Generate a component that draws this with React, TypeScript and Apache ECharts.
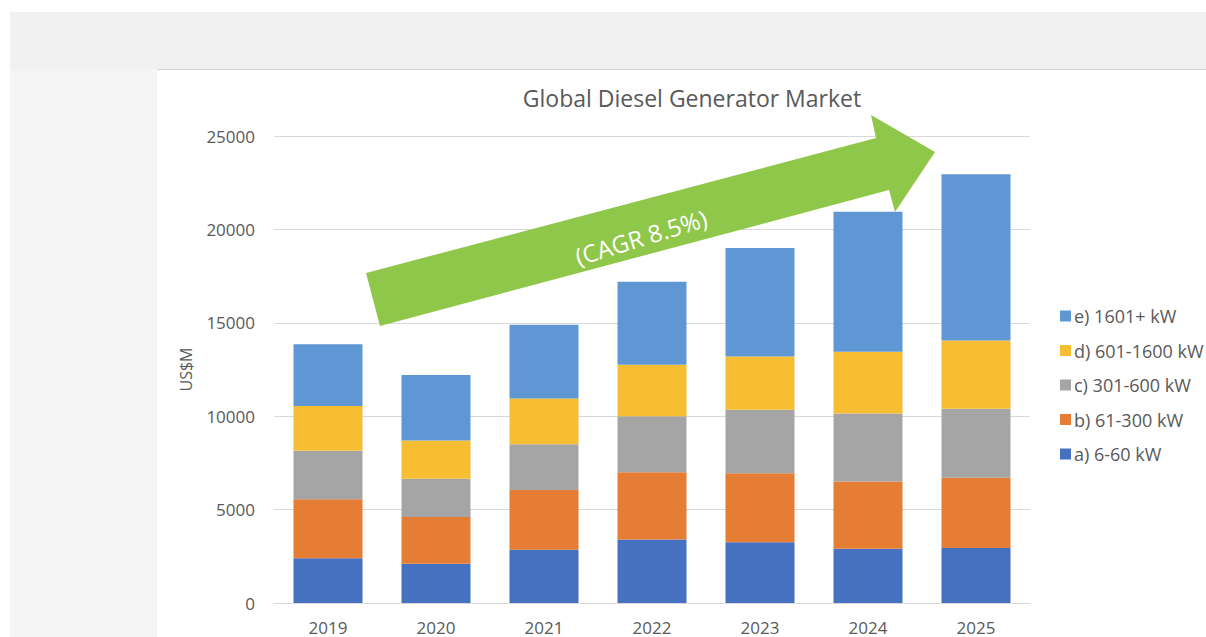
import React, { useEffect, useRef } from "react";
import * as echarts from "echarts";

const years = ["2019", "2020", "2021", "2022", "2023", "2024", "2025"];
const seriesNames = ["a) 6-60 kW", "b) 61-300 kW", "c) 301-600 kW", "d) 601-1600 kW", "e) 1601+ kW"];
const kw6to60 = [2400, 2100, 2850, 3400, 3250, 2900, 2950];
const kw61to300 = [3150, 2500, 3200, 3600, 3700, 3600, 3750];
const kw301to600 = [2600, 2050, 2450, 3000, 3400, 3650, 3700];
const kw601to1600 = [2400, 2050, 2450, 2750, 2850, 3300, 3650];
const kw1601plus = [3300, 3500, 3950, 4450, 5800, 7500, 8900];
const seriesColors = ["#4670c0", "#e67d35", "#a5a5a5", "#f7be33", "#5e97d4"];
const yTicks = { min: 0, max: 25000, interval: 5000 };

const FONT = "'Open Sans', 'Noto Sans', sans-serif";

export default function App() {
  const ref = useRef<HTMLDivElement>(null);
  useEffect(() => {
    if (!ref.current) return;
    const chart = echarts.init(ref.current, null, { renderer: "svg" });
    const values = [kw6to60, kw61to300, kw301to600, kw601to1600, kw1601plus];

    const arrowPts = [
      [366, 273],
      [876, 138],
      [871, 115],
      [935, 152],
      [895, 212],
      [889, 190],
      [380, 326],
    ];

    chart.setOption({
      animation: false,
      backgroundColor: "#ffffff",
      textStyle: { fontFamily: FONT },
      title: {
        text: "Global Diesel Generator Market",
        left: 687,
        textAlign: "center",
        top: 81,
        textStyle: { fontFamily: FONT, fontSize: 23, fontWeight: "normal", color: "#595959" },
      },
      legend: {
        data: seriesNames.slice().reverse(),
        orient: "vertical",
        left: 1055,
        top: 302,
        itemWidth: 11,
        itemHeight: 11,
        itemGap: 16.5,
        icon: "rect",
        textStyle: { fontFamily: FONT, fontSize: 18, lineHeight: 18, color: "#595959", padding: [0, 0, 0, -2] },
      },
      grid: { left: 274, right: 176, top: 136, bottom: 34, containLabel: false },
      xAxis: {
        type: "category",
        data: years,
        axisTick: { show: false },
        axisLine: { lineStyle: { color: "#d9d9d9" } },
        axisLabel: { fontFamily: FONT, fontSize: 17, lineHeight: 18, color: "#595959", margin: 15 },
      },
      yAxis: {
        type: "value",
        min: yTicks.min,
        max: yTicks.max,
        interval: yTicks.interval,
        name: "US$M",
        nameLocation: "middle",
        nameGap: 80,
        nameTextStyle: { fontFamily: FONT, fontSize: 16, color: "#595959" },
        axisLine: { show: false },
        axisTick: { show: false },
        axisLabel: {
          fontFamily: FONT,
          fontSize: 17,
          color: "#595959",
          margin: 19,
          formatter: (v: number) => String(v),
        },
        splitLine: { lineStyle: { color: "#d9d9d9" } },
      },
      series: seriesNames.map((name, i) => ({
        name,
        type: "bar",
        stack: "total",
        barWidth: 69,
        data: values[i],
        itemStyle: { color: seriesColors[i] },
        z: 2,
      })),
      graphic: [
        { type: "rect", z: -10, silent: true, shape: { x: 0, y: 0, width: 1206, height: 12 }, style: { fill: "#ffffff" } },
        { type: "rect", z: -10, silent: true, shape: { x: 10, y: 12, width: 1196, height: 57 }, style: { fill: "#f1f1f1" } },
        { type: "rect", z: -10, silent: true, shape: { x: 10, y: 69, width: 147, height: 568 }, style: { fill: "#f5f5f5" } },
        { type: "line", z: -9, silent: true, shape: { x1: 157, y1: 69.5, x2: 1206, y2: 69.5 }, style: { stroke: "#d6d6d6", lineWidth: 1 } },
        {
          type: "polygon",
          z: 100,
          silent: true,
          shape: { points: arrowPts },
          style: { fill: "#8fc74a" },
        },
        {
          type: "text",
          z: 101,
          x: 641,
          y: 237,
          rotation: (17 * Math.PI) / 180,
          style: {
            text: "(CAGR 8.5%)",
            fill: "#ffffff",
            font: `24px ${FONT}`,
            align: "center",
            verticalAlign: "middle",
          },
        },
      ],
    });
    return () => chart.dispose();
  }, []);
  return (
    <div
      ref={ref}
      style={{ position: "fixed", left: 0, top: 0, width: 1206, height: 637 }}
    />
  );
}
